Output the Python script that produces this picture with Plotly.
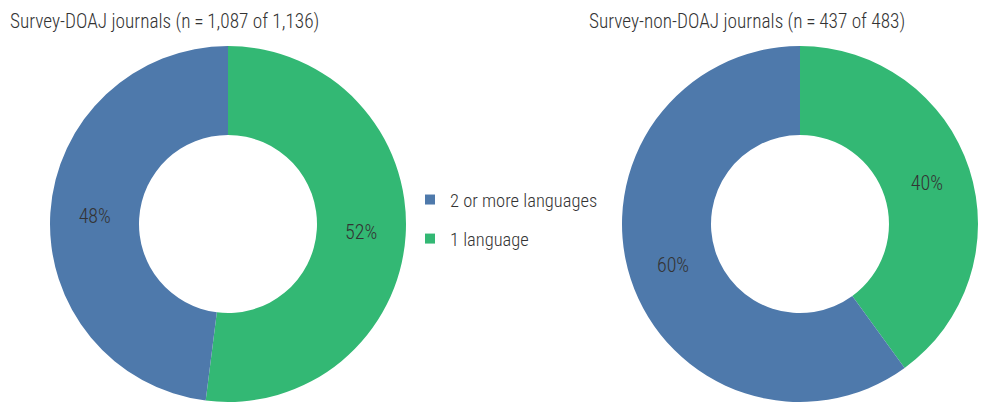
import plotly.graph_objects as go

# Share of journals by number of publication languages
categories = ["2 or more languages", "1 language"]
doaj_pct = [48, 52]
non_doaj_pct = [60, 40]
colors = ["#4e79ab", "#33b874"]

doaj_title = "Survey-DOAJ journals (n\u2009=\u20091,087 of 1,136)"
non_doaj_title = "Survey-non-DOAJ journals (n\u2009=\u2009437 of 483)"

FONT = "Roboto Condensed, Liberation Sans Narrow, Arial Narrow, Roboto, sans-serif"
W, H = 982, 403

fig = go.Figure()

def donut(values, x0, x1):
    # slices listed from "1 language" so it sweeps clockwise from 12 o'clock
    return go.Pie(
        labels=categories[::-1],
        values=values[::-1],
        sort=False,
        direction="clockwise",
        rotation=0,
        hole=0.5,
        marker=dict(colors=colors[::-1], line=dict(width=0)),
        texttemplate="%{value}%",
        textposition="inside",
        insidetextorientation="horizontal",
        textfont=dict(family=FONT, size=20, color="#333333", weight=300),
        domain=dict(x=[x0 / W, x1 / W], y=[1 / H, 357 / H]),
        showlegend=False,
        hoverinfo="label+percent",
    )

fig.add_trace(donut(doaj_pct, 50, 406))
fig.add_trace(donut(non_doaj_pct, 622, 978))

# Legend entries, one group each so the gap between them can be set
for i, (name, col) in enumerate(zip(categories, colors)):
    fig.add_trace(go.Scatter(
        x=[None], y=[None], mode="markers", name=name,
        legendgroup=f"g{i}",
        marker=dict(symbol="square", size=10, color=col),
    ))

for text, x in [(doaj_title, 8), (non_doaj_title, 587)]:
    fig.add_annotation(
        text=text, x=x / W, y=1 - 22 / H, xref="paper", yref="paper",
        xanchor="left", yanchor="middle", showarrow=False,
        font=dict(family=FONT, size=19.3, color="#333333", weight=300),
    )

fig.update_layout(
    width=W, height=H,
    margin=dict(l=0, r=0, t=0, b=0),
    paper_bgcolor="white", plot_bgcolor="white",
    xaxis=dict(visible=False), yaxis=dict(visible=False),
    legend=dict(
        x=410 / W, y=1 - 181 / H, xanchor="left", yanchor="top",
        font=dict(family=FONT, size=18.5, color="#333333", weight=300),
        tracegroupgap=12, bgcolor="rgba(0,0,0,0)",
    ),
)

fig.write_html("out.html")
